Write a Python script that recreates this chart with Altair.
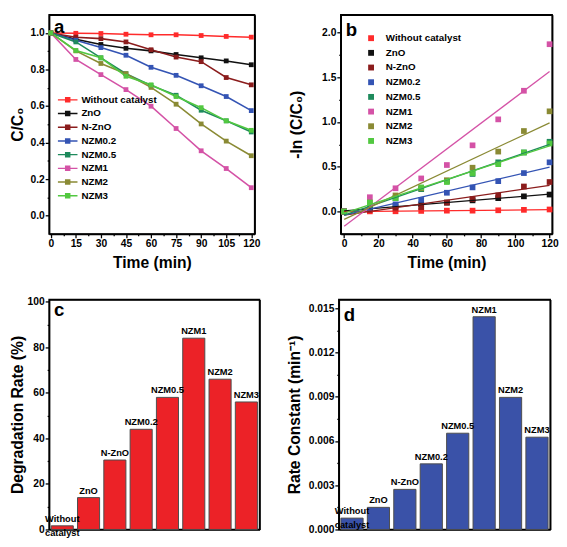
import altair as alt
import pandas as pd

FONT = "Liberation Sans, Arial, sans-serif"

series = ["Without catalyst", "ZnO", "N-ZnO", "NZM0.2", "NZM0.5", "NZM1", "NZM2", "NZM3"]
bar_labels = ["Without\ncatalyst", "ZnO", "N-ZnO", "NZM0.2", "NZM0.5", "NZM1", "NZM2", "NZM3"]
colors = ["#ff2b2b", "#111111", "#8b1c1c", "#3454b4", "#1e8a5c", "#d452a6", "#8a8a34", "#52c840"]
time_min = [0, 15, 30, 45, 60, 75, 90, 105, 120]

# panel a: C/C0
cc0_without = [1.0, 0.998, 0.997, 0.993, 0.990, 0.990, 0.986, 0.981, 0.977]
cc0_zno = [1.0, 0.965, 0.937, 0.916, 0.902, 0.882, 0.864, 0.847, 0.826]
cc0_nzno = [1.0, 0.977, 0.969, 0.951, 0.908, 0.868, 0.843, 0.756, 0.716]
cc0_nzm02 = [1.0, 0.960, 0.920, 0.878, 0.812, 0.768, 0.711, 0.652, 0.575]
cc0_nzm05 = [1.0, 0.951, 0.864, 0.777, 0.713, 0.659, 0.577, 0.519, 0.458]
cc0_nzm1 = [1.0, 0.855, 0.772, 0.690, 0.599, 0.477, 0.355, 0.258, 0.153]
cc0_nzm2 = [1.0, 0.902, 0.833, 0.777, 0.702, 0.610, 0.502, 0.408, 0.328]
cc0_nzm3 = [1.0, 0.904, 0.864, 0.763, 0.716, 0.652, 0.591, 0.519, 0.467]

# panel b: -ln(C/C0)
ln_without = [0.0, 0.002, 0.003, 0.007, 0.010, 0.010, 0.014, 0.019, 0.023]
ln_zno = [0.0, 0.03, 0.06, 0.08, 0.10, 0.125, 0.15, 0.17, 0.19]
ln_nzno = [0.0, 0.02, 0.03, 0.05, 0.10, 0.14, 0.18, 0.28, 0.33]
ln_nzm02 = [0.0, 0.04, 0.08, 0.13, 0.21, 0.27, 0.34, 0.43, 0.55]
ln_nzm05 = [0.0, 0.05, 0.15, 0.25, 0.34, 0.42, 0.55, 0.66, 0.78]
ln_nzm1 = [0.0, 0.16, 0.26, 0.37, 0.52, 0.74, 1.03, 1.35, 1.87]
ln_nzm2 = [0.0, 0.10, 0.18, 0.26, 0.35, 0.49, 0.67, 0.90, 1.12]
ln_nzm3 = [0.0, 0.10, 0.15, 0.27, 0.33, 0.43, 0.53, 0.66, 0.76]

# panels c, d
degradation_rate = [1.6, 14.0, 30.5, 44.0, 58.0, 84.0, 66.0, 56.0]
rate_constant = [0.00077, 0.0015, 0.00272, 0.00445, 0.00653, 0.01443, 0.00896, 0.00626]

cc0_lists = [cc0_without, cc0_zno, cc0_nzno, cc0_nzm02, cc0_nzm05, cc0_nzm1, cc0_nzm2, cc0_nzm3]
ln_lists = [ln_without, ln_zno, ln_nzno, ln_nzm02, ln_nzm05, ln_nzm1, ln_nzm2, ln_nzm3]

df_a = pd.DataFrame([{"series": s, "t": t, "v": v}
                     for s, vals in zip(series, cc0_lists) for t, v in zip(time_min, vals)])
df_b = pd.DataFrame([{"series": s, "t": t, "v": v}
                     for s, vals in zip(series, ln_lists) for t, v in zip(time_min, vals)])
df_cd = pd.DataFrame({"series": series, "label": bar_labels,
                      "deg": degradation_rate, "k": rate_constant})

color_scale = alt.Scale(domain=series, range=colors)

AX = dict(grid=False, domain=True, domainColor="black", domainWidth=1.6, labelFont=FONT,
          labelFontWeight="bold", labelFontSize=10.5, labelColor="black", titleFont=FONT,
          titleFontWeight="bold", titleFontSize=16, titleColor="black", tickColor="black",
          tickWidth=1.3, labelPadding=1)
EDGE = dict(labels=False, ticks=False, domain=True, domainColor="black", domainWidth=1.6,
            title=None, grid=False)

LEG_SYMBOL = "M-2.5,-0.18H2.5V0.18H-2.5Z M-0.7,-0.7H0.7V0.7H-0.7Z"

A_W, A_H = 210, 224
B_W, B_H = 216, 224
C_W, C_H = 215, 235
D_W, D_H = 216, 235


def letter(ch, yb):
    return alt.Chart(pd.DataFrame({"l": [ch]})).mark_text(
        align="left", baseline="alphabetic", font=FONT, fontWeight="bold", fontSize=19, color="black"
    ).encode(text="l:N", x=alt.value(5), y=alt.value(yb))


def edges(data, xf, xs, yf, ys):
    # invisible layer whose top/right axes close the frame
    return alt.Chart(data).mark_point(opacity=0).encode(
        x=alt.X(xf, scale=xs, axis=alt.Axis(orient="top", **EDGE)),
        y=alt.Y(yf, scale=ys, axis=alt.Axis(orient="right", **EDGE)),
    )


# ---------- panel a ----------
xa = alt.Scale(domain=[-1, 122], nice=False, zero=False)
ya = alt.Scale(domain=[-0.1, 1.1], nice=False, zero=False)
xa_axis = alt.Axis(orient="bottom", values=[i * 7.5 for i in range(17)], title="Time (min)", titlePadding=6,
                   labelExpr="datum.value % 15 == 0 ? datum.label : ''",
                   tickSize={"condition": {"test": "datum.value % 15 == 0", "value": 4}, "value": 2}, **AX)
ya_axis = alt.Axis(orient="left", values=[i / 10 for i in range(11)], format=".1f", title="C/C₀",
                   titlePadding=2, minExtent=22,
                   labelExpr="round(datum.value * 10) % 2 == 0 ? datum.label : ''",
                   tickSize={"condition": {"test": "round(datum.value * 10) % 2 == 0", "value": 4}, "value": 2}, **AX)
line_a = alt.Chart(df_a).mark_line(strokeWidth=1.6).encode(
    x=alt.X("t:Q", scale=xa, axis=xa_axis),
    y=alt.Y("v:Q", scale=ya, axis=ya_axis),
    color=alt.Color("series:N", scale=color_scale, legend=None),
)
pts_a = alt.Chart(df_a).mark_point(shape="square", filled=True, size=24, opacity=1).encode(
    x=alt.X("t:Q", scale=xa, axis=None),
    y=alt.Y("v:Q", scale=ya, axis=None),
    color=alt.Color("series:N", scale=color_scale, legend=alt.Legend(
        title=None, orient="none", legendX=14, legendY=82, symbolType=LEG_SYMBOL, symbolSize=64,
        symbolStrokeWidth=0, labelOffset=9, labelFont=FONT, labelFontWeight="bold", labelFontSize=10,
        labelColor="black", rowPadding=4)),
)
panel_a = alt.layer(line_a, pts_a, edges(df_a, "t:Q", xa, "v:Q", ya), letter("a", 19)).resolve_axis(
    x="independent", y="independent").resolve_legend(color="independent").properties(width=A_W, height=A_H)

# ---------- panel b ----------
xb = alt.Scale(domain=[-2, 121.5], nice=False, zero=False)
yb = alt.Scale(domain=[-0.25, 2.2], nice=False, zero=False)
xb_axis = alt.Axis(orient="bottom", values=[i * 10 for i in range(13)], title="Time (min)", titlePadding=6,
                   labelExpr="datum.value % 20 == 0 ? datum.label : ''",
                   tickSize={"condition": {"test": "datum.value % 20 == 0", "value": 4}, "value": 2}, **AX)
yb_axis = alt.Axis(orient="left", values=[i / 4 for i in range(9)], format=".1f", title="-ln (C/C₀)",
                   titlePadding=3, minExtent=34,
                   labelExpr="round(datum.value * 4) % 2 == 0 ? datum.label : ''",
                   tickSize={"condition": {"test": "round(datum.value * 4) % 2 == 0", "value": 4}, "value": 2}, **AX)
pts_b = alt.Chart(df_b).mark_point(shape="square", filled=True, size=34, opacity=1).encode(
    x=alt.X("t:Q", scale=xb, axis=xb_axis),
    y=alt.Y("v:Q", scale=yb, axis=yb_axis),
    color=alt.Color("series:N", scale=color_scale, legend=alt.Legend(
        title=None, orient="none", legendX=26, legendY=19, symbolType="square", symbolSize=36,
        symbolStrokeWidth=0, labelOffset=10, labelFont=FONT, labelFontWeight="bold", labelFontSize=10,
        labelColor="black", rowPadding=5)),
)
fit_b = alt.Chart(df_b).transform_regression(
    "t", "v", groupby=["series"], extent=[0, 120]
).mark_line(strokeWidth=1.3).encode(
    x=alt.X("t:Q", scale=xb, axis=None),
    y=alt.Y("v:Q", scale=yb, axis=None),
    color=alt.Color("series:N", scale=color_scale, legend=None),
)
panel_b = alt.layer(pts_b, fit_b, edges(df_b, "t:Q", xb, "v:Q", yb), letter("b", 22)).resolve_axis(
    x="independent", y="independent").resolve_legend(color="independent").properties(width=B_W, height=B_H)

# ---------- panel c ----------
xcat_scale = alt.Scale(domain=series, paddingInner=0.16, paddingOuter=0.08)
xcat_axis = alt.Axis(orient="bottom", **EDGE)
yc_scale = alt.Scale(domain=[0, 101], nice=False)
yc_axis = alt.Axis(orient="left", values=[i * 10 for i in range(11)], title="Degradation Rate (%)",
                   titlePadding=2, minExtent=22,
                   labelExpr="datum.value % 20 == 0 ? datum.label : ''",
                   tickSize={"condition": {"test": "datum.value % 20 == 0", "value": 4}, "value": 2}, **AX)
bars_c = alt.Chart(df_cd).mark_bar(color="#ec2227", stroke="#4d4d4d", strokeWidth=1).encode(
    x=alt.X("series:N", scale=xcat_scale, axis=xcat_axis),
    y=alt.Y("deg:Q", scale=yc_scale, axis=yc_axis))
text_c = alt.Chart(df_cd).mark_text(baseline="bottom", dy=-2, font=FONT, fontWeight="bold", fontSize=9.5,
                                    lineBreak="\n", lineHeight=14, color="black").encode(
    x=alt.X("series:N", scale=xcat_scale, axis=None),
    y=alt.Y("deg:Q", scale=yc_scale, axis=None), text="label:N")
panel_c = alt.layer(bars_c, text_c, edges(df_cd, "series:N", xcat_scale, "deg:Q", yc_scale),
                    letter("c", 17)).resolve_axis(x="independent", y="independent").properties(
    width=C_W, height=C_H)

# ---------- panel d ----------
yd_scale = alt.Scale(domain=[0, 0.0156], nice=False)
yd_axis = alt.Axis(orient="left", values=[i * 0.0015 for i in range(11)], format=".3f",
                   title="Rate Constant (min⁻¹)", titlePadding=3, minExtent=34,
                   labelExpr="round(datum.value / 0.0015) % 2 == 0 ? datum.label : ''",
                   tickSize={"condition": {"test": "round(datum.value / 0.0015) % 2 == 0", "value": 4}, "value": 2},
                   **AX)
bars_d = alt.Chart(df_cd).mark_bar(color="#3a52a8", stroke="#4d4d4d", strokeWidth=1).encode(
    x=alt.X("series:N", scale=xcat_scale, axis=xcat_axis),
    y=alt.Y("k:Q", scale=yd_scale, axis=yd_axis))
text_d = alt.Chart(df_cd).mark_text(baseline="bottom", dy=-2, font=FONT, fontWeight="bold", fontSize=9.5,
                                    lineBreak="\n", lineHeight=14, color="black").encode(
    x=alt.X("series:N", scale=xcat_scale, axis=None),
    y=alt.Y("k:Q", scale=yd_scale, axis=None), text="label:N")
panel_d = alt.layer(bars_d, text_d, edges(df_cd, "series:N", xcat_scale, "k:Q", yd_scale),
                    letter("d", 22)).resolve_axis(x="independent", y="independent").properties(
    width=D_W, height=D_H)

top_row = alt.hconcat(panel_a, panel_b, spacing=27)
bottom_row = alt.hconcat(panel_c, panel_d, spacing=26)
chart = alt.vconcat(top_row, bottom_row, spacing=24).properties(padding=0).configure_view(
    stroke="black", strokeWidth=1.5)

chart.save("out.html", embed_options={"renderer": "svg", "actions": False})
